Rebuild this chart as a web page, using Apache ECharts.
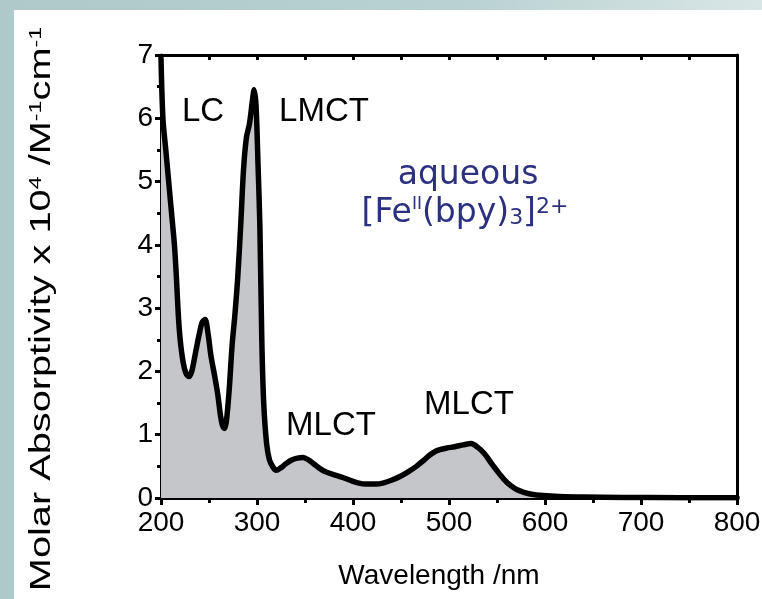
<!DOCTYPE html>
<html>
<head>
<meta charset="utf-8">
<script src="https://cdn.jsdelivr.net/npm/echarts@6/dist/echarts.min.js"></script>
<style>
html, body { margin: 0; padding: 0; }
#main { width: 762px; height: 599px; }
</style>
</head>
<body>
<div id="main"></div>
<script>
// 波长 /nm
var wavelength = [200, 202, 205, 208, 211, 214, 216, 218, 220, 223, 226, 229, 232, 236, 240, 243, 246, 249, 252, 256,
    259, 262, 264, 266, 268, 271, 274, 277, 280, 283, 286, 289, 292, 295, 297, 299, 301, 303, 305, 307,
    310, 313, 317, 320, 325, 330, 336, 342, 348, 354, 360, 366, 372, 380, 390, 397, 405, 414, 424, 432,
    440, 449, 457, 466, 474, 480, 486, 492, 498, 506, 515, 523, 530, 537, 544, 550, 557, 564, 571, 578, 586,
    598, 615, 640, 680, 740, 800];
// 摩尔吸光系数 x 10^4
var absorptivity = [6.95, 6.0, 5.5, 5.0, 4.5, 4.0, 3.5, 2.9, 2.5, 2.15, 1.97, 1.92, 2.0, 2.3, 2.6, 2.78, 2.82, 2.6, 2.25, 1.92,
    1.65, 1.3, 1.15, 1.1, 1.2, 1.7, 2.4, 2.9, 3.5, 4.3, 5.2, 5.7, 5.9, 6.25, 6.45, 6.2, 5.3, 4.3, 2.5, 1.5,
    0.86, 0.6, 0.48, 0.44, 0.48, 0.54, 0.6, 0.63, 0.64, 0.6, 0.53, 0.46, 0.41, 0.37, 0.32, 0.28, 0.24, 0.22, 0.22, 0.24,
    0.28, 0.34, 0.41, 0.5, 0.6, 0.68, 0.74, 0.77, 0.79, 0.81, 0.84, 0.86, 0.8, 0.7, 0.55, 0.43, 0.3, 0.2, 0.13, 0.09, 0.06,
    0.04, 0.025, 0.015, 0.008, 0.005, 0.003];
var xTicks = [200, 300, 400, 500, 600, 700, 800];
var yTicks = [0, 1, 2, 3, 4, 5, 6, 7];
// 谱带标注
var bandNames = ['LC', 'LMCT', 'MLCT', 'MLCT'];
var bandPos = [[203, 112], [324, 112], [331, 426], [469, 405]];

var chart = echarts.init(document.getElementById('main'), null, {renderer: 'canvas'});

var seriesData = wavelength.map(function (w, i) { return [w, absorptivity[i]]; });
var sans = '"Liberation Sans", Arial, Helvetica, sans-serif';
var blueFont = '"DejaVu Sans", sans-serif';
var blue = '#2b3080';

var graphics = [
    {type: 'rect', z: -10, silent: true, shape: {x: 0, y: 0, width: 762, height: 599},
        style: {fill: new echarts.graphic.LinearGradient(0, 0, 1, 0, [
            {offset: 0, color: '#adc9ca'}, {offset: 0.6, color: '#b9d1d1'}, {offset: 1, color: '#d9e6e6'}])}},
    {type: 'rect', z: -9, silent: true, shape: {x: 14, y: 10, width: 748, height: 589}, style: {fill: '#fff'}},
    {type: 'text', x: 42, y: 309, rotation: Math.PI / 2, scaleX: 1.37, style: {
        text: '{n|Molar Absorptivity x 10}{s|4}{n| /M}{s|-1}{n|cm}{s|-1}',
        align: 'center', verticalAlign: 'middle', fill: '#000',
        rich: {
            n: {fontSize: 29, fontFamily: sans, fill: '#000'},
            s: {fontSize: 17, fontFamily: sans, fill: '#000', verticalAlign: 'top'}
        }
    }},
    {type: 'text', x: 468, y: 175, style: {
        text: 'aqueous', align: 'center', verticalAlign: 'middle',
        fill: blue, font: '33px ' + blueFont
    }},
    {type: 'text', x: 465, y: 213, style: {
        text: '{b|[Fe}{sup|II}{b|(bpy)}{sub|3}{b|]}{sup2|2+}',
        align: 'center', verticalAlign: 'middle', fill: blue,
        rich: {
            b: {fontSize: 33, fontFamily: blueFont, fill: blue},
            sup: {fontSize: 17, fontFamily: blueFont, fill: blue, verticalAlign: 'top'},
            sup2: {fontSize: 22, fontFamily: blueFont, fill: blue, verticalAlign: 'top'},
            sub: {fontSize: 22, fontFamily: blueFont, fill: blue, verticalAlign: 'bottom'}
        }
    }}
];
bandNames.forEach(function (name, i) {
    graphics.push({type: 'text', x: bandPos[i][0], y: bandPos[i][1], style: {
        text: name, align: 'center', verticalAlign: 'middle', fill: '#000', font: '33px ' + sans
    }});
});

var axisLine = {show: true, onZero: false, lineStyle: {color: '#000', width: 3}};

var option = {
    animation: false,
    backgroundColor: 'transparent',
    grid: {left: 161, right: 25, top: 55, bottom: 101, containLabel: false, outerBoundsMode: 'none'},
    xAxis: [
        {
            type: 'value', position: 'bottom',
            min: xTicks[0], max: xTicks[xTicks.length - 1], interval: xTicks[1] - xTicks[0],
            axisLine: axisLine,
            axisTick: {show: true, inside: false, length: 7, lineStyle: {color: '#000', width: 3}},
            minorTick: {show: true, splitNumber: 2, length: 5, lineStyle: {color: '#000', width: 3}},
            splitLine: {show: false},
            axisLabel: {fontSize: 28, color: '#000', margin: 11, fontFamily: sans, showMinLabel: true, showMaxLabel: true},
            name: 'Wavelength /nm', nameLocation: 'middle', nameGap: 64,
            nameTextStyle: {fontSize: 28, color: '#000', fontFamily: sans, padding: [0, 20, 0, 0]}
        },
        {
            type: 'value', position: 'top',
            min: xTicks[0], max: xTicks[xTicks.length - 1], interval: 50,
            axisLine: axisLine,
            axisTick: {show: true, inside: true, length: 5, lineStyle: {color: '#000', width: 3}},
            axisLabel: {show: false},
            splitLine: {show: false}
        }
    ],
    yAxis: [
        {
            type: 'value', position: 'left',
            min: yTicks[0], max: yTicks[yTicks.length - 1], interval: 1,
            axisLine: axisLine,
            axisTick: {show: true, inside: false, length: 6, lineStyle: {color: '#000', width: 3}},
            minorTick: {show: true, splitNumber: 2, length: 4, lineStyle: {color: '#000', width: 3}},
            splitLine: {show: false},
            axisLabel: {fontSize: 28, color: '#000', margin: 8, fontFamily: sans}
        },
        {
            type: 'value', position: 'right',
            min: yTicks[0], max: yTicks[yTicks.length - 1], interval: 1,
            axisLine: axisLine,
            axisTick: {show: false},
            axisLabel: {show: false},
            splitLine: {show: false}
        }
    ],
    series: [
        {
            type: 'line',
            data: seriesData,
            smooth: 0.3,
            showSymbol: false,
            symbol: 'none',
            clip: true,
            lineStyle: {color: '#000', width: 5.5, join: 'round', cap: 'round'},
            areaStyle: {color: '#c5c6ca', opacity: 1},
            z: 1
        }
    ],
    graphic: graphics
};

chart.setOption(option);
</script>
</body>
</html>
